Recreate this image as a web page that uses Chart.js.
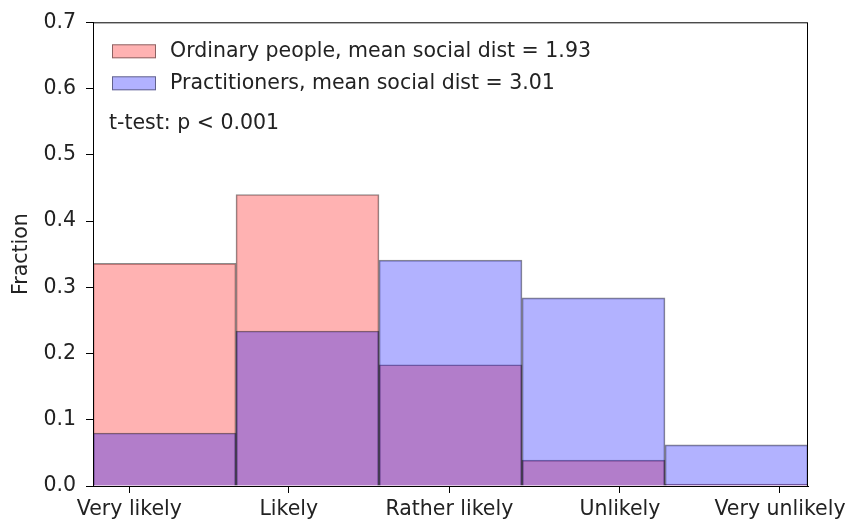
<!DOCTYPE html>
<html>
<head>
<meta charset="utf-8">
<script src="https://cdn.jsdelivr.net/npm/chart.js@4.4.1/dist/chart.umd.min.js"></script>
<style>
  html, body { margin: 0; padding: 0; background: #fff; }
  canvas { display: block; }
</style>
</head>
<body>
<canvas id="histChart" width="855" height="524"></canvas>
<script>
// Data (fractions per answer bin)
const binCenters = [0.5, 1.5, 2.5, 3.5, 4.5];
const ordinary = [0.336, 0.440, 0.183, 0.039, 0.003];
const practitioners = [0.080, 0.234, 0.341, 0.284, 0.062];
const tickLabels = ['Very likely', 'Likely', 'Rather likely', 'Unlikely', 'Very unlikely'];
const tickPositions = [0.254, 1.369, 2.492, 3.685, 4.804];
const seriesNames = ['Ordinary people, mean social dist = 1.93', 'Practitioners, mean social dist = 3.01'];
const note = 't-test: p < 0.001';

const RED = 'rgba(255,0,0,0.3)';
const BLUE = 'rgba(0,0,255,0.3)';
const EDGE = 'rgba(0,0,0,0.45)';
const FONT = 'DejaVu Sans';
const FS = 20.5;

Chart.defaults.font.family = FONT;
Chart.defaults.font.size = FS;
Chart.defaults.color = '#222';

// frame, legend and annotation drawn inside the axes
const extras = {
  id: 'extras',
  afterDatasetsDraw(chart) {
    const { ctx, chartArea: a } = chart;
    ctx.save();
    ctx.strokeStyle = '#000';
    ctx.lineWidth = 1;
    ctx.strokeRect(a.left + 0.5, a.top + 0.5, a.right - a.left - 1, a.bottom - a.top);

    ctx.font = FS + 'px "' + FONT + '"';
    ctx.textBaseline = 'middle';
    ctx.fillStyle = '#222';
    chart.data.datasets.forEach((ds, i) => {
      const py = a.top + 22 + i * 32;
      ctx.fillStyle = '#fff';
      ctx.fillRect(a.left + 19, py, 44, 14);
      ctx.fillStyle = ds.backgroundColor;
      ctx.fillRect(a.left + 19, py, 44, 14);
      ctx.strokeStyle = EDGE;
      ctx.strokeRect(a.left + 19.5, py + 0.5, 43, 13);
      ctx.fillStyle = '#222';
      ctx.textAlign = 'left';
      ctx.fillText(ds.label, a.left + 77, py + 7);
    });
    ctx.fillText(note, a.left + 16, a.top + 101);

    // y axis title
    ctx.translate(22, (a.top + a.bottom) / 2);
    ctx.rotate(-Math.PI / 2);
    ctx.textAlign = 'center';
    ctx.fillText('Fraction', 0, 0);
    ctx.restore();
  }
};

new Chart(document.getElementById('histChart'), {
  type: 'bar',
  data: {
    datasets: [
      {
        label: seriesNames[0],
        data: binCenters.map((c, i) => ({ x: c, y: ordinary[i] })),
        backgroundColor: RED, borderColor: EDGE, borderWidth: 1, order: 2
      },
      {
        label: seriesNames[1],
        data: binCenters.map((c, i) => ({ x: c, y: practitioners[i] })),
        backgroundColor: BLUE, borderColor: EDGE, borderWidth: 1, order: 1
      }
    ]
  },
  options: {
    responsive: false,
    animation: false,
    grouped: false,
    barPercentage: 1,
    categoryPercentage: 1,
    layout: { padding: { top: 20, right: 47, left: 0, bottom: 0 } },
    plugins: { legend: { display: false }, tooltip: { enabled: false } },
    scales: {
      x: {
        type: 'linear',
        min: 0, max: 5,
        offset: false,
        grid: { drawOnChartArea: false, tickLength: 7, tickColor: '#000', offset: false },
        border: { display: true, color: '#000' },
        ticks: {
          autoSkip: false, maxRotation: 0, padding: 4, color: '#222',
          callback: (v, i) => tickLabels[i]
        },
        afterBuildTicks: s => { s.ticks = tickPositions.map(v => ({ value: v })); },
        afterFit: s => { s.height = 38; }
      },
      y: {
        min: 0, max: 0.7,
        grid: { drawOnChartArea: false, tickLength: 7, tickColor: '#000' },
        border: { display: true, color: '#000' },
        ticks: { stepSize: 0.1, padding: 10, color: '#222', callback: v => v.toFixed(1) },
        afterFit: s => { s.width = 93; }
      }
    }
  },
  plugins: [extras]
});
</script>
</body>
</html>
